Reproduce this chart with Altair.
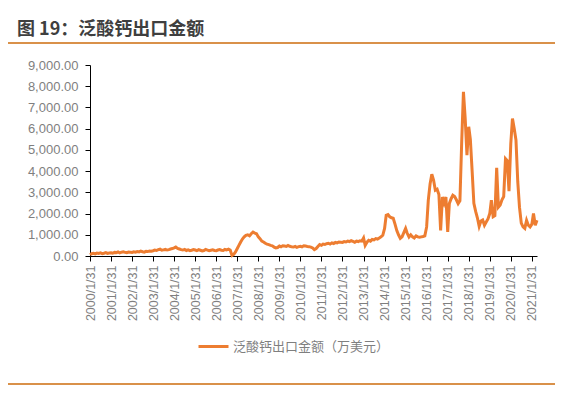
import altair as alt
import pandas as pd

title_text = "图 19：泛酸钙出口金额"
series_name = "泛酸钙出口金额（万美元）"

v2000 = [60, 110, 130, 100, 140, 120, 150, 110, 130, 160, 120, 140]
v2001 = [150, 130, 170, 160, 190, 150, 180, 200, 170, 160, 190, 180]
v2002 = [170, 200, 180, 210, 190, 230, 200, 180, 220, 210, 240, 230]
v2003 = [250, 280, 260, 300, 320, 270, 290, 310, 280, 300, 330, 350]
v2004 = [380, 420, 360, 330, 300, 280, 310, 260, 290, 250, 270, 300]
v2005 = [280, 250, 300, 270, 240, 260, 310, 280, 250, 270, 290, 260]
v2006 = [250, 280, 300, 270, 260, 310, 290, 320, 280, 30, 80, 190]
v2007 = [350, 500, 660, 800, 900, 975, 1000, 950, 1050, 1130, 1080, 1050]
v2008 = [900, 820, 700, 660, 600, 560, 535, 500, 480, 420, 380, 400]
v2009 = [470, 430, 480, 470, 450, 500, 460, 430, 420, 450, 410, 440]
v2010 = [460, 430, 480, 470, 450, 440, 420, 380, 300, 350, 450, 535]
v2011 = [500, 560, 540, 580, 600, 560, 620, 590, 640, 620, 660, 650]
v2012 = [640, 680, 660, 700, 680, 720, 690, 650, 700, 680, 720, 700]
v2013 = [850, 500, 650, 740, 700, 780, 760, 820, 800, 850, 900, 975]
v2014 = [1300, 1920, 1950, 1850, 1800, 1780, 1500, 1200, 1000, 830, 900, 1100]
v2015 = [1300, 1070, 900, 1000, 900, 850, 950, 900, 880, 900, 920, 950]
v2016 = [1370, 2630, 3400, 3850, 3570, 3100, 3150, 2900, 1200, 2780, 2500, 2780]
v2017 = [1130, 2470, 2700, 2860, 2800, 2650, 2470, 2600, 5300, 7740, 6500, 4750]
v2018 = [6090, 5500, 4000, 2480, 2100, 1800, 1400, 1650, 1700, 1450, 1600, 1750]
v2019 = [2000, 2630, 1850, 1900, 4150, 2300, 2400, 2650, 2800, 4590, 4500, 3050]
v2020 = [5300, 6480, 6000, 5460, 3500, 2300, 1550, 1370, 1300, 1680, 1450, 1370]
v2021 = [1500, 2000, 1450, 1680]

values = (v2000 + v2001 + v2002 + v2003 + v2004 + v2005 + v2006 + v2007 + v2008
          + v2009 + v2010 + v2011 + v2012 + v2013 + v2014 + v2015 + v2016 + v2017
          + v2018 + v2019 + v2020 + v2021)

dates = pd.date_range("2000-01-31", periods=len(values), freq="ME").strftime("%Y-%m-%d").tolist()
tick_years = list(range(2000, 2022))

df = pd.DataFrame({"date": dates, "value": values, "series": series_name})

orange = "#ED7D31"
gray = "#7F7F7F"

line = alt.Chart(df).mark_line(strokeWidth=3, color=orange).encode(
    x=alt.X(
        "date:T",
        scale=alt.Scale(type="utc", domain=[alt.DateTime(year=2000, month=1, date=31, utc=True),
                                            alt.DateTime(year=2021, month=4, date=30, utc=True)], nice=False),
        axis=alt.Axis(
            title=None,
            values=[alt.DateTime(year=y, month=1, date=31, utc=True) for y in tick_years],
            labelExpr="utcFormat(datum.value, '%Y') + '/1/31'",
            labelAngle=-90,
            labelAlign="right",
            labelBaseline="middle",
            labelFont="Liberation Sans",
            labelFontSize=12.5,
            labelColor=gray,
            labelPadding=4,
            domainColor="#000000",
            tickColor="#000000",
            tickSize=5,
            grid=False,
            labelOverlap=False,
        ),
    ),
    y=alt.Y(
        "value:Q",
        scale=alt.Scale(domain=[0, 9000], nice=False),
        axis=alt.Axis(
            title=None,
            values=list(range(0, 9001, 1000)),
            format=",.2f",
            labelFont="Liberation Sans",
            labelFontSize=13,
            labelColor=gray,
            labelPadding=7,
            domainColor="#000000",
            tickColor="#000000",
            tickSize=5,
            grid=False,
        ),
    ),
    color=alt.Color(
        "series:N",
        scale=alt.Scale(domain=[series_name], range=[orange]),
        legend=alt.Legend(
            title=None,
            orient="none",
            legendX=107,
            legendY=265,
            symbolType="stroke",
            symbolSize=900,
            symbolStrokeWidth=3,
            labelFont="Noto Sans CJK SC",
            labelFontSize=13,
            labelColor=gray,
            labelOffset=3,
        ),
    ),
)

title_df = pd.DataFrame({"t": [title_text]})
title = alt.Chart(title_df).mark_text(
    align="left", baseline="alphabetic", font="Noto Sans CJK SC", fontSize=18,
    fontWeight="bold", color="#3F3F3F"
).encode(text="t:N", x=alt.value(-73), y=alt.value(-30))

top_rule = alt.Chart(title_df).mark_rule(color="#D9914A", strokeWidth=2).encode(
    x=alt.value(-86), x2=alt.value(468), y=alt.value(-22)
)
bottom_rule = alt.Chart(title_df).mark_rule(color="#D9914A", strokeWidth=2).encode(
    x=alt.value(-86), x2=alt.value(468), y=alt.value(319)
)

chart = alt.layer(line, title, top_rule, bottom_rule).properties(
    width=447,
    height=191,
    autosize=alt.AutoSizeParams(type="none"),
    padding={"left": 82, "top": 57, "right": 18, "bottom": 132},
).configure_view(strokeWidth=0)

chart.save("out.html", embed_options={"renderer": "svg", "actions": False})
